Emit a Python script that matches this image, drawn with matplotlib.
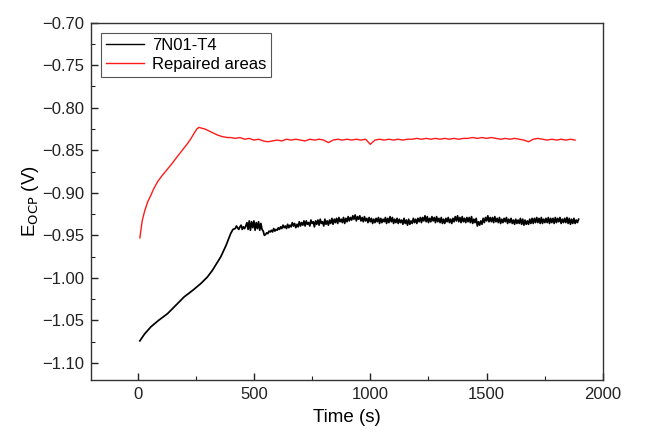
import numpy as np
import matplotlib
matplotlib.use("Agg")
import matplotlib.pyplot as plt
from matplotlib.ticker import MultipleLocator

plt.rcParams['font.family'] = ['Liberation Sans', 'DejaVu Sans']

# ---- data ----
# 7N01-T4: initial rise
t_black_rise = [10, 30, 57, 90, 129, 165, 200, 240, 272, 300, 322, 340, 358, 380, 400, 410]
v_black_rise = [-1.074, -1.066, -1.0576, -1.050, -1.042, -1.032, -1.0224, -1.014, -1.0066,
                -0.999, -0.991, -0.983, -0.975, -0.962, -0.948, -0.943]
# 7N01-T4: noisy plateau, sampled every 5 s from 420 s to 1895 s
t_black_plateau_start, t_black_plateau_step = 420, 5
v_black_plateau = [
    -0.942, -0.939, -0.941, -0.943, -0.940, -0.938, -0.943, -0.940, -0.942, -0.939,
    -0.935, -0.943, -0.933, -0.944, -0.934, -0.941, -0.933, -0.944, -0.935, -0.942,
    -0.934, -0.944, -0.936, -0.943, -0.945, -0.950, -0.949, -0.947, -0.948, -0.945,
    -0.946, -0.944, -0.946, -0.942, -0.945, -0.943, -0.944, -0.941, -0.943, -0.940,
    -0.942, -0.938, -0.941, -0.939, -0.942, -0.937, -0.941, -0.938, -0.940, -0.935,
    -0.939, -0.936, -0.941, -0.937, -0.940, -0.934, -0.939, -0.935, -0.938, -0.933,
    -0.939, -0.933, -0.937, -0.935, -0.939, -0.932, -0.936, -0.934, -0.940, -0.933,
    -0.937, -0.932, -0.938, -0.931, -0.936, -0.934, -0.939, -0.931, -0.937, -0.933,
    -0.938, -0.932, -0.936, -0.930, -0.937, -0.931, -0.935, -0.930, -0.936, -0.929,
    -0.934, -0.931, -0.935, -0.929, -0.936, -0.930, -0.934, -0.928, -0.933, -0.929,
    -0.932, -0.927, -0.931, -0.926, -0.933, -0.928, -0.931, -0.927, -0.933, -0.929,
    -0.934, -0.928, -0.933, -0.930, -0.935, -0.929, -0.934, -0.930, -0.936, -0.931,
    -0.935, -0.930, -0.934, -0.929, -0.936, -0.930, -0.935, -0.931, -0.934, -0.929,
    -0.936, -0.930, -0.935, -0.928, -0.934, -0.929, -0.936, -0.931, -0.935, -0.930,
    -0.936, -0.931, -0.935, -0.932, -0.937, -0.930, -0.936, -0.932, -0.938, -0.931,
    -0.937, -0.933, -0.936, -0.930, -0.935, -0.931, -0.936, -0.930, -0.934, -0.929,
    -0.935, -0.929, -0.933, -0.927, -0.934, -0.928, -0.935, -0.930, -0.934, -0.928,
    -0.933, -0.929, -0.935, -0.928, -0.934, -0.930, -0.935, -0.929, -0.936, -0.931,
    -0.936, -0.930, -0.934, -0.929, -0.935, -0.931, -0.936, -0.930, -0.934, -0.928,
    -0.933, -0.927, -0.934, -0.929, -0.935, -0.928, -0.934, -0.930, -0.935, -0.929,
    -0.934, -0.929, -0.935, -0.928, -0.936, -0.931, -0.935, -0.930, -0.939, -0.934,
    -0.938, -0.933, -0.937, -0.930, -0.935, -0.929, -0.933, -0.927, -0.934, -0.929,
    -0.934, -0.929, -0.935, -0.928, -0.934, -0.930, -0.935, -0.929, -0.936, -0.931,
    -0.935, -0.930, -0.934, -0.929, -0.936, -0.931, -0.935, -0.930, -0.936, -0.932,
    -0.937, -0.931, -0.936, -0.932, -0.936, -0.930, -0.937, -0.931, -0.938, -0.932,
    -0.937, -0.933, -0.937, -0.931, -0.936, -0.930, -0.936, -0.930, -0.935, -0.929,
    -0.935, -0.930, -0.936, -0.929, -0.936, -0.931, -0.935, -0.930, -0.935, -0.929,
    -0.936, -0.930, -0.935, -0.930, -0.936, -0.929, -0.935, -0.930, -0.934, -0.929,
    -0.936, -0.931, -0.935, -0.930, -0.935, -0.929, -0.936, -0.930, -0.937, -0.931,
    -0.936, -0.930, -0.936, -0.932, -0.935, -0.931,
]

# Repaired areas: initial rise and overshoot
t_red_rise = [10, 15, 20, 30, 43, 57, 70, 86, 105, 129, 150, 172, 195, 215, 230, 243, 255,
              264, 275, 290, 305, 320, 343, 365, 386]
v_red_rise = [-0.953, -0.943, -0.933, -0.922, -0.911, -0.903, -0.895, -0.887, -0.880, -0.872,
              -0.865, -0.857, -0.849, -0.842, -0.836, -0.830, -0.825, -0.823, -0.824, -0.825,
              -0.827, -0.829, -0.832, -0.834, -0.835]
# Repaired areas: plateau, sampled every 20 s from 400 s to 1880 s
t_red_plateau_start, t_red_plateau_step = 400, 20
v_red_plateau = [
    -0.835, -0.836, -0.835, -0.837, -0.836, -0.838, -0.837, -0.839, -0.840, -0.839,
    -0.838, -0.839, -0.837, -0.838, -0.837, -0.838, -0.839, -0.837, -0.838, -0.837,
    -0.838, -0.841, -0.838, -0.837, -0.838, -0.837, -0.838, -0.837, -0.838, -0.837,
    -0.843, -0.838, -0.837, -0.838, -0.837, -0.838, -0.837, -0.838, -0.837, -0.837,
    -0.836, -0.837, -0.836, -0.837, -0.836, -0.837, -0.836, -0.837, -0.836, -0.837,
    -0.836, -0.836, -0.835, -0.836, -0.835, -0.836, -0.835, -0.836, -0.837, -0.836,
    -0.837, -0.836, -0.837, -0.838, -0.840, -0.837, -0.836, -0.837, -0.838, -0.837,
    -0.838, -0.837, -0.838, -0.837, -0.838,
]

labels = ["7N01-T4", "Repaired areas"]
colors = ["black", "#ff1a1a"]
x_ticks = [0, 500, 1000, 1500, 2000]
y_ticks = [-0.70, -0.75, -0.80, -0.85, -0.90, -0.95, -1.00, -1.05, -1.10]

# ---- assemble series ----
t_black = np.concatenate([t_black_rise,
                          t_black_plateau_start + t_black_plateau_step * np.arange(len(v_black_plateau))])
v_black = np.concatenate([v_black_rise, v_black_plateau])
t_red = np.concatenate([t_red_rise,
                        t_red_plateau_start + t_red_plateau_step * np.arange(len(v_red_plateau))])
v_red = np.concatenate([v_red_rise, v_red_plateau])

fig = plt.figure(figsize=(6.48, 4.32), dpi=100)
ax = fig.add_axes([0.1404, 0.1204, 0.7902, 0.8271])

ax.plot(t_black, v_black, color=colors[0], lw=1.25, label=labels[0])
ax.plot(t_red, v_red, color=colors[1], lw=1.0, label=labels[1])

ax.set_xlim(-200, 2000)
ax.set_ylim(-1.12, -0.70)
ax.set_xticks(x_ticks)
ax.set_yticks(y_ticks)
ax.xaxis.set_minor_locator(MultipleLocator(250))
ax.yaxis.set_minor_locator(MultipleLocator(0.025))
ax.yaxis.set_major_formatter(matplotlib.ticker.FuncFormatter(lambda v, p: f"{v:.2f}".replace("-", "\u2212")))

ax.tick_params(axis='both', which='major', direction='in', length=5, width=1.0,
               labelsize=12, pad=5, colors='#222222')
ax.tick_params(axis='both', which='minor', direction='in', length=3, width=0.8, colors='#222222')
ax.tick_params(top=False, right=False, which='both')
for s in ax.spines.values():
    s.set_linewidth(1.0)
    s.set_color('#333333')

ax.set_xlabel("Time (s)", fontsize=13.5, labelpad=5)
ax.set_ylabel(r"E$_{\mathrm{OCP}}$ (V)", fontsize=13.5, labelpad=1)

leg = ax.legend(loc='upper left', fontsize=12, frameon=True, fancybox=False,
                edgecolor='#555555', framealpha=1, handlelength=2.3, handletextpad=0.45,
                borderpad=0.3, labelspacing=0.25, borderaxespad=0.6)
leg.get_frame().set_linewidth(0.8)
leg.get_lines()[0].set_linewidth(1.0)

fig.savefig("out.png", dpi=100)
